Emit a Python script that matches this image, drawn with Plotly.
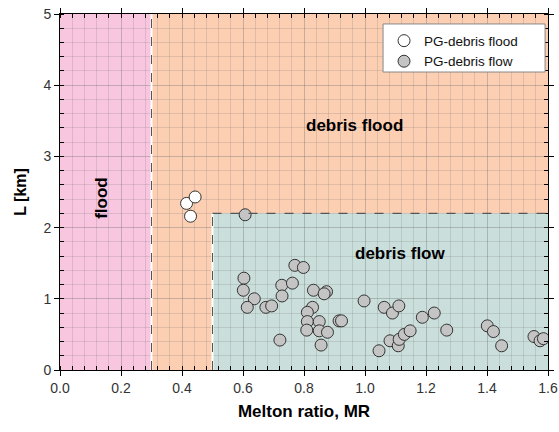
import plotly.graph_objects as go

# Data
flood_mr = [0.415, 0.443, 0.428]
flood_L = [2.34, 2.43, 2.16]

flow_mr = [0.607, 0.770, 0.798, 0.603, 0.601, 0.637, 0.614, 0.675, 0.694, 0.727,
           0.762, 0.728, 0.831, 0.874, 0.866, 0.828, 0.811, 0.811, 0.850, 0.809,
           0.850, 0.877, 0.856, 0.721, 0.915, 0.923, 0.997, 1.063, 1.090, 1.111,
           1.046, 1.082, 1.109, 1.112, 1.129, 1.148, 1.188, 1.227, 1.268, 1.401,
           1.421, 1.448, 1.554, 1.574, 1.585]
flow_L = [2.18, 1.47, 1.44, 1.29, 1.12, 1.00, 0.88, 0.88, 0.90, 1.19,
          1.22, 1.04, 1.12, 1.10, 1.07, 0.88, 0.81, 0.68, 0.68, 0.56,
          0.55, 0.53, 0.35, 0.42, 0.69, 0.69, 0.97, 0.88, 0.80, 0.90,
          0.27, 0.41, 0.34, 0.43, 0.50, 0.55, 0.74, 0.80, 0.56, 0.62,
          0.54, 0.34, 0.47, 0.41, 0.44]

# Region thresholds
MR_FLOOD = 0.3
MR_FLOW = 0.5
L_FLOW = 2.2
X_MAX = 1.6
Y_MAX = 5

FONT = "Arial, Liberation Sans, sans-serif"

fig = go.Figure()

fig.add_trace(go.Scatter(
    x=flood_mr, y=flood_L, mode="markers", name="PG-debris flood",
    marker=dict(size=12, color="white", line=dict(color="#333333", width=1)),
))
fig.add_trace(go.Scatter(
    x=flow_mr, y=flow_L, mode="markers", name="PG-debris flow",
    marker=dict(size=12, color="#C4C4C4", line=dict(color="#333333", width=1)),
))

shapes = [
    dict(type="rect", xref="x", yref="y", x0=0, x1=MR_FLOOD, y0=0, y1=Y_MAX,
         fillcolor="#F9C6E0", line=dict(width=0), layer="below"),
    dict(type="rect", xref="x", yref="y", x0=MR_FLOOD, x1=X_MAX, y0=0, y1=Y_MAX,
         fillcolor="#FCCFB3", line=dict(width=0), layer="below"),
    dict(type="rect", xref="x", yref="y", x0=MR_FLOW, x1=X_MAX, y0=0, y1=L_FLOW,
         fillcolor="#CADFDB", line=dict(width=0), layer="below"),
    # boundary lines
    dict(type="line", xref="x", yref="y", x0=MR_FLOOD, x1=MR_FLOOD, y0=0, y1=Y_MAX,
         line=dict(color="white", width=2), layer="above"),
    dict(type="line", xref="x", yref="y", x0=MR_FLOOD, x1=MR_FLOOD, y0=0, y1=Y_MAX,
         line=dict(color="#555555", width=1, dash="dash"), layer="above"),
    dict(type="line", xref="x", yref="y", x0=MR_FLOW, x1=MR_FLOW, y0=0, y1=L_FLOW,
         line=dict(color="white", width=2), layer="above"),
    dict(type="line", xref="x", yref="y", x0=MR_FLOW, x1=MR_FLOW, y0=0, y1=L_FLOW,
         line=dict(color="#555555", width=1, dash="dash"), layer="above"),
    dict(type="line", xref="x", yref="y", x0=MR_FLOW, x1=X_MAX, y0=L_FLOW, y1=L_FLOW,
         line=dict(color="#555555", width=1.2, dash="dash"), layer="above"),
    # legend box
    dict(type="rect", xref="paper", yref="paper", x0=0.662, x1=0.994, y0=0.837, y1=0.972,
         fillcolor="white", line=dict(color="#888888", width=1), layer="above"),
]

annotations = [
    dict(x=0.138, y=2.42, xref="x", yref="y", text="<b>flood</b>", textangle=-90,
         showarrow=False, font=dict(size=17, color="black", family=FONT)),
    dict(x=0.964, y=3.44, xref="x", yref="y", text="<b>debris flood</b>",
         showarrow=False, font=dict(size=17, color="black", family=FONT)),
    dict(x=1.118, y=1.64, xref="x", yref="y", text="<b>debris flow</b>",
         showarrow=False, font=dict(size=17, color="black", family=FONT)),
]

grid_color = "rgba(110,110,110,0.2)"

fig.update_layout(
    width=559, height=432,
    margin=dict(l=60, r=11, t=14, b=62),
    paper_bgcolor="white", plot_bgcolor="white",
    font=dict(family=FONT, color="#222222", size=14),
    shapes=shapes, annotations=annotations,
    showlegend=True,
    legend=dict(x=0.664, y=0.968, xanchor="left", yanchor="top",
                bgcolor="rgba(0,0,0,0)", borderwidth=0,
                font=dict(size=13.5, family=FONT, color="#111111"),
                itemwidth=30, tracegroupgap=0),
)

fig.update_xaxes(
    range=[0, X_MAX], dtick=0.2, tickformat=".1f", automargin=False,
    showline=True, linecolor="black", linewidth=1, mirror="ticks",
    ticks="outside", ticklen=5, tickcolor="black",
    showgrid=True, gridcolor=grid_color, gridwidth=1, zeroline=False,
    minor=dict(dtick=0.04, ticks="inside", ticklen=4, tickcolor="black",
               showgrid=True, gridcolor=grid_color, gridwidth=1),
    title=dict(text="<b>Melton ratio, MR</b>", font=dict(size=17, color="black"), standoff=10),
    tickfont=dict(size=14, color="#333333"),
)
fig.update_yaxes(
    range=[0, Y_MAX], dtick=1, automargin=False,
    showline=True, linecolor="black", linewidth=1, mirror="ticks",
    ticks="outside", ticklen=5, tickcolor="black",
    showgrid=True, gridcolor=grid_color, gridwidth=1, zeroline=False,
    minor=dict(dtick=0.2, ticks="inside", ticklen=4, tickcolor="black",
               showgrid=True, gridcolor=grid_color, gridwidth=1),
    title=dict(text="<b>L [km]</b>", font=dict(size=16, color="black"), standoff=12),
    tickfont=dict(size=14, color="#333333"),
)

fig.write_html("out.html")
